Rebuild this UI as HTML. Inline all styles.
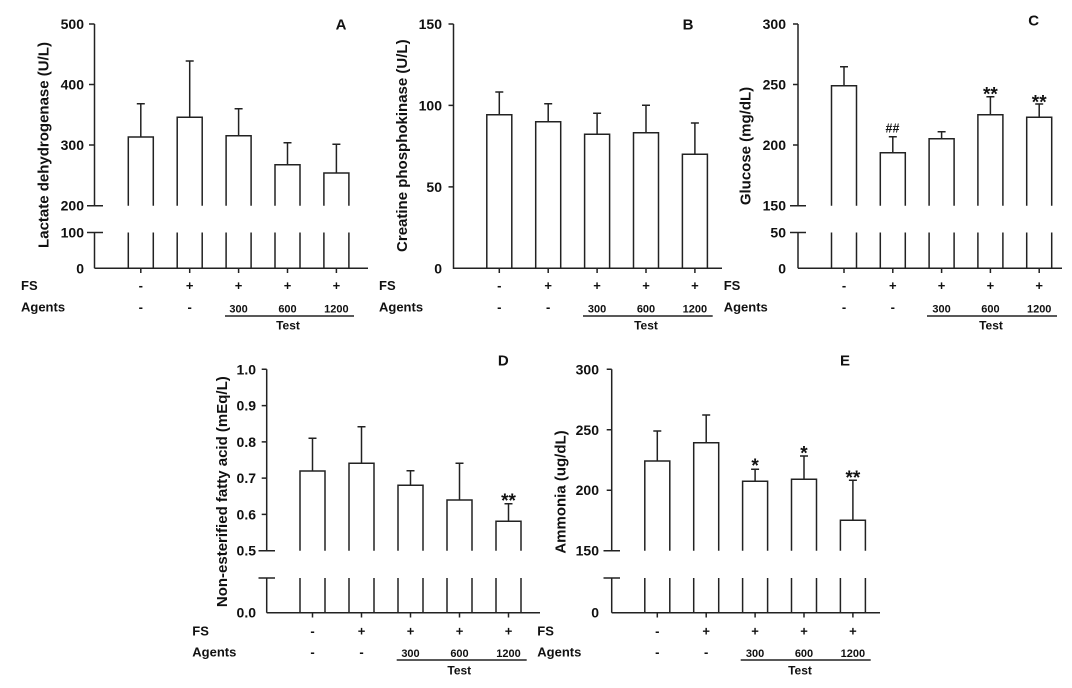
<!DOCTYPE html>
<html>
<head>
<meta charset="utf-8">
<style>
html,body{margin:0;padding:0;background:#fff;}
svg{display:block;}
text{font-family:"Liberation Sans",Arial,sans-serif;font-weight:bold;fill:#111;}
.ln{stroke:#222;stroke-width:1.5;fill:none;}
.tk{font-size:14px;text-anchor:end;}
.yl{font-size:15px;text-anchor:middle;}
.rw{font-size:13px;}
.sy{font-size:13px;text-anchor:middle;}
.ds{font-size:11px;text-anchor:middle;}
.ts{font-size:12px;text-anchor:middle;}
.pl{font-size:15px;text-anchor:middle;}
.st{font-size:19px;text-anchor:middle;}
</style>
</head>
<body>
<svg width="1072" height="688" viewBox="0 0 1072 688" xmlns="http://www.w3.org/2000/svg">

<!-- ================= PANEL A ================= -->
<g>
<path class="ln" d="M94.5,24 V205.7 M94.5,232.5 V268.3 M94.5,268.3 H368"/>
<path class="ln" d="M89,24 H94.5 M89,84.5 H94.5 M89,145 H94.5 M87,205.7 H103 M87,232.5 H103"/>
<text class="tk" x="84" y="29">500</text>
<text class="tk" x="84" y="89.5">400</text>
<text class="tk" x="84" y="150">300</text>
<text class="tk" x="84" y="210.7">200</text>
<text class="tk" x="84" y="237.5">100</text>
<text class="tk" x="84" y="273.3">0</text>
<text class="yl" transform="translate(48.5,145) rotate(-90)">Lactate dehydrogenase (U/L)</text>
<text class="pl" x="341" y="29.5">A</text>
<!-- bars -->
<path class="ln" d="M128.3,205.7 V137 H153.3 V205.7 M128.3,232.5 V268.3 M153.3,232.5 V268.3 M140.8,137 V103.7 M136.8,103.7 H144.8"/>
<path class="ln" d="M177.2,205.7 V117.3 H202.2 V205.7 M177.2,232.5 V268.3 M202.2,232.5 V268.3 M189.7,117.3 V61 M185.7,61 H193.7"/>
<path class="ln" d="M226.1,205.7 V135.7 H251.1 V205.7 M226.1,232.5 V268.3 M251.1,232.5 V268.3 M238.6,135.7 V108.7 M234.6,108.7 H242.6"/>
<path class="ln" d="M275,205.7 V164.7 H300 V205.7 M275,232.5 V268.3 M300,232.5 V268.3 M287.5,164.7 V142.7 M283.5,142.7 H291.5"/>
<path class="ln" d="M323.9,205.7 V173 H348.9 V205.7 M323.9,232.5 V268.3 M348.9,232.5 V268.3 M336.4,173 V144.3 M332.4,144.3 H340.4"/>
<path class="ln" d="M140.8,268.3 V273 M189.7,268.3 V273 M238.6,268.3 V273 M287.5,268.3 V273 M336.4,268.3 V273"/>
<!-- rows -->
<text class="rw" x="21" y="290">FS</text>
<text class="rw" x="21" y="311.5">Agents</text>
<text class="sy" x="140.8" y="290">-</text>
<text class="sy" x="189.7" y="290">+</text>
<text class="sy" x="238.6" y="290">+</text>
<text class="sy" x="287.5" y="290">+</text>
<text class="sy" x="336.4" y="290">+</text>
<text class="sy" x="140.8" y="311.5">-</text>
<text class="sy" x="189.7" y="311.5">-</text>
<text class="ds" x="238.6" y="312.3">300</text>
<text class="ds" x="287.5" y="312.3">600</text>
<text class="ds" x="336.4" y="312.3">1200</text>
<path class="ln" d="M225,316 H354"/>
<text class="ts" x="288" y="329.5">Test</text>
</g>

<!-- ================= PANEL B ================= -->
<g>
<path class="ln" d="M453.5,24 V268.3 H722"/>
<path class="ln" d="M448.5,24 H453.5 M448.5,105.4 H453.5 M448.5,186.9 H453.5"/>
<text class="tk" x="442" y="29">150</text>
<text class="tk" x="442" y="110.4">100</text>
<text class="tk" x="442" y="191.9">50</text>
<text class="tk" x="442" y="273.3">0</text>
<text class="yl" transform="translate(407,145.7) rotate(-90)">Creatine phosphokinase (U/L)</text>
<text class="pl" x="688" y="29.5">B</text>
<path class="ln" d="M486.8,268.3 V114.7 H511.8 V268.3 M499.3,114.7 V92 M495.3,92 H503.3"/>
<path class="ln" d="M535.7,268.3 V121.7 H560.7 V268.3 M548.2,121.7 V103.7 M544.2,103.7 H552.2"/>
<path class="ln" d="M584.6,268.3 V134.3 H609.6 V268.3 M597.1,134.3 V113.3 M593.1,113.3 H601.1"/>
<path class="ln" d="M633.5,268.3 V132.7 H658.5 V268.3 M646,132.7 V105.3 M642,105.3 H650"/>
<path class="ln" d="M682.4,268.3 V154.3 H707.4 V268.3 M694.9,154.3 V123 M690.9,123 H698.9"/>
<path class="ln" d="M499.3,268.3 V273 M548.2,268.3 V273 M597.1,268.3 V273 M646,268.3 V273 M694.9,268.3 V273"/>
<text class="rw" x="379" y="290">FS</text>
<text class="rw" x="379" y="311.5">Agents</text>
<text class="sy" x="499.3" y="290">-</text>
<text class="sy" x="548.2" y="290">+</text>
<text class="sy" x="597.1" y="290">+</text>
<text class="sy" x="646" y="290">+</text>
<text class="sy" x="694.9" y="290">+</text>
<text class="sy" x="499.3" y="311.5">-</text>
<text class="sy" x="548.2" y="311.5">-</text>
<text class="ds" x="597.1" y="312.3">300</text>
<text class="ds" x="646" y="312.3">600</text>
<text class="ds" x="694.9" y="312.3">1200</text>
<path class="ln" d="M583,316 H712.7"/>
<text class="ts" x="646" y="329.5">Test</text>
</g>

<!-- ================= PANEL C ================= -->
<g>
<path class="ln" d="M798,24 V205.7 M798,232.5 V268.3 M798,268.3 H1062"/>
<path class="ln" d="M793,24 H798 M793,84.5 H798 M793,145 H798 M790,205.7 H806 M790,232.5 H806"/>
<text class="tk" x="786" y="29">300</text>
<text class="tk" x="786" y="89.5">250</text>
<text class="tk" x="786" y="150">200</text>
<text class="tk" x="786" y="210.7">150</text>
<text class="tk" x="786" y="237.5">50</text>
<text class="tk" x="786" y="273.3">0</text>
<text class="yl" transform="translate(750.5,146) rotate(-90)">Glucose (mg/dL)</text>
<text class="pl" x="1033.7" y="25.5">C</text>
<path class="ln" d="M831.5,205.7 V85.7 H856.5 V205.7 M831.5,232.5 V268.3 M856.5,232.5 V268.3 M844,85.7 V66.7 M840,66.7 H848"/>
<path class="ln" d="M880.3,205.7 V152.7 H905.3 V205.7 M880.3,232.5 V268.3 M905.3,232.5 V268.3 M892.8,152.7 V136.7 M888.8,136.7 H896.8"/>
<path class="ln" d="M929.1,205.7 V138.7 H954.1 V205.7 M929.1,232.5 V268.3 M954.1,232.5 V268.3 M941.6,138.7 V131.7 M937.6,131.7 H945.6"/>
<path class="ln" d="M977.9,205.7 V114.7 H1002.9 V205.7 M977.9,232.5 V268.3 M1002.9,232.5 V268.3 M990.4,114.7 V96.7 M986.4,96.7 H994.4"/>
<path class="ln" d="M1026.7,205.7 V117.3 H1051.7 V205.7 M1026.7,232.5 V268.3 M1051.7,232.5 V268.3 M1039.2,117.3 V104 M1035.2,104 H1043.2"/>
<path class="ln" d="M844,268.3 V273 M892.8,268.3 V273 M941.6,268.3 V273 M990.4,268.3 V273 M1039.2,268.3 V273"/>
<text x="892.5" y="132.7" style="font-size:12.5px;text-anchor:middle;">##</text>
<text class="st" x="990.4" y="100.5">**</text>
<text class="st" x="1039.2" y="108.5">**</text>
<text class="rw" x="723.7" y="290">FS</text>
<text class="rw" x="723.7" y="311.5">Agents</text>
<text class="sy" x="844" y="290">-</text>
<text class="sy" x="892.8" y="290">+</text>
<text class="sy" x="941.6" y="290">+</text>
<text class="sy" x="990.4" y="290">+</text>
<text class="sy" x="1039.2" y="290">+</text>
<text class="sy" x="844" y="311.5">-</text>
<text class="sy" x="892.8" y="311.5">-</text>
<text class="ds" x="941.6" y="312.3">300</text>
<text class="ds" x="990.4" y="312.3">600</text>
<text class="ds" x="1039.2" y="312.3">1200</text>
<path class="ln" d="M927,316 H1057"/>
<text class="ts" x="991" y="329.5">Test</text>
</g>

<!-- ================= PANEL D ================= -->
<g>
<path class="ln" d="M266.7,369.3 V550.7 M266.7,578 V612.7 M266.7,612.7 H540"/>
<path class="ln" d="M261.7,369.3 H266.7 M261.7,405.6 H266.7 M261.7,441.9 H266.7 M261.7,478.1 H266.7 M261.7,514.4 H266.7 M258.5,550.7 H275 M258.5,578 H275"/>
<text class="tk" x="256" y="374.3">1.0</text>
<text class="tk" x="256" y="410.6">0.9</text>
<text class="tk" x="256" y="446.9">0.8</text>
<text class="tk" x="256" y="483.1">0.7</text>
<text class="tk" x="256" y="519.4">0.6</text>
<text class="tk" x="256" y="555.7">0.5</text>
<text class="tk" x="256" y="617.7">0.0</text>
<text class="yl" transform="translate(227,491.7) rotate(-90)">Non-esterified fatty acid (mEq/L)</text>
<text class="pl" x="503.3" y="365.5">D</text>
<path class="ln" d="M300,550.7 V471 H325 V550.7 M300,578 V612.7 M325,578 V612.7 M312.5,471 V438.3 M308.5,438.3 H316.5"/>
<path class="ln" d="M349,550.7 V463.3 H374 V550.7 M349,578 V612.7 M374,578 V612.7 M361.5,463.3 V426.7 M357.5,426.7 H365.5"/>
<path class="ln" d="M398,550.7 V485.3 H423 V550.7 M398,578 V612.7 M423,578 V612.7 M410.5,485.3 V470.7 M406.5,470.7 H414.5"/>
<path class="ln" d="M447,550.7 V500 H472 V550.7 M447,578 V612.7 M472,578 V612.7 M459.5,500 V463.3 M455.5,463.3 H463.5"/>
<path class="ln" d="M496,550.7 V521.3 H521 V550.7 M496,578 V612.7 M521,578 V612.7 M508.5,521.3 V503.7 M504.5,503.7 H512.5"/>
<path class="ln" d="M312.5,612.7 V617.5 M361.5,612.7 V617.5 M410.5,612.7 V617.5 M459.5,612.7 V617.5 M508.5,612.7 V617.5"/>
<text class="st" x="508.5" y="507">**</text>
<text class="rw" x="192.3" y="635.7">FS</text>
<text class="rw" x="192.3" y="656.4">Agents</text>
<text class="sy" x="312.5" y="635.7">-</text>
<text class="sy" x="361.5" y="635.7">+</text>
<text class="sy" x="410.5" y="635.7">+</text>
<text class="sy" x="459.5" y="635.7">+</text>
<text class="sy" x="508.5" y="635.7">+</text>
<text class="sy" x="312.5" y="656.4">-</text>
<text class="sy" x="361.5" y="656.4">-</text>
<text class="ds" x="410.5" y="656.8">300</text>
<text class="ds" x="459.5" y="656.8">600</text>
<text class="ds" x="508.5" y="656.8">1200</text>
<path class="ln" d="M396.7,660 H526.7"/>
<text class="ts" x="459.3" y="674.5">Test</text>
</g>

<!-- ================= PANEL E ================= -->
<g>
<path class="ln" d="M611.7,369.3 V550.7 M611.7,578 V612.7 M611.7,612.7 H880"/>
<path class="ln" d="M606.7,369.3 H611.7 M606.7,429.8 H611.7 M606.7,490.2 H611.7 M603.5,550.7 H620 M603.5,578 H620"/>
<text class="tk" x="599" y="374.3">300</text>
<text class="tk" x="599" y="434.8">250</text>
<text class="tk" x="599" y="495.2">200</text>
<text class="tk" x="599" y="555.7">150</text>
<text class="tk" x="599" y="617.7">0</text>
<text class="yl" transform="translate(565.5,492) rotate(-90)">Ammonia (ug/dL)</text>
<text class="pl" x="845" y="365.5">E</text>
<path class="ln" d="M644.8,550.7 V461 H669.8 V550.7 M644.8,578 V612.7 M669.8,578 V612.7 M657.3,461 V431 M653.3,431 H661.3"/>
<path class="ln" d="M693.7,550.7 V442.7 H718.7 V550.7 M693.7,578 V612.7 M718.7,578 V612.7 M706.2,442.7 V415 M702.2,415 H710.2"/>
<path class="ln" d="M742.6,550.7 V481.3 H767.6 V550.7 M742.6,578 V612.7 M767.6,578 V612.7 M755.1,481.3 V469.3 M751.1,469.3 H759.1"/>
<path class="ln" d="M791.5,550.7 V479.3 H816.5 V550.7 M791.5,578 V612.7 M816.5,578 V612.7 M804,479.3 V456 M800,456 H808"/>
<path class="ln" d="M840.4,550.7 V520.3 H865.4 V550.7 M840.4,578 V612.7 M865.4,578 V612.7 M852.9,520.3 V480.3 M848.9,480.3 H856.9"/>
<path class="ln" d="M657.3,612.7 V617.5 M706.2,612.7 V617.5 M755.1,612.7 V617.5 M804,612.7 V617.5 M852.9,612.7 V617.5"/>
<text class="st" x="755.1" y="472">*</text>
<text class="st" x="804" y="459.5">*</text>
<text class="st" x="852.9" y="484">**</text>
<text class="rw" x="537.3" y="635.7">FS</text>
<text class="rw" x="537.3" y="656.4">Agents</text>
<text class="sy" x="657.3" y="635.7">-</text>
<text class="sy" x="706.2" y="635.7">+</text>
<text class="sy" x="755.1" y="635.7">+</text>
<text class="sy" x="804" y="635.7">+</text>
<text class="sy" x="852.9" y="635.7">+</text>
<text class="sy" x="657.3" y="656.4">-</text>
<text class="sy" x="706.2" y="656.4">-</text>
<text class="ds" x="755.1" y="656.8">300</text>
<text class="ds" x="804" y="656.8">600</text>
<text class="ds" x="852.9" y="656.8">1200</text>
<path class="ln" d="M740.7,660 H870.7"/>
<text class="ts" x="800" y="674.5">Test</text>
</g>

</svg>
</body>
</html>
